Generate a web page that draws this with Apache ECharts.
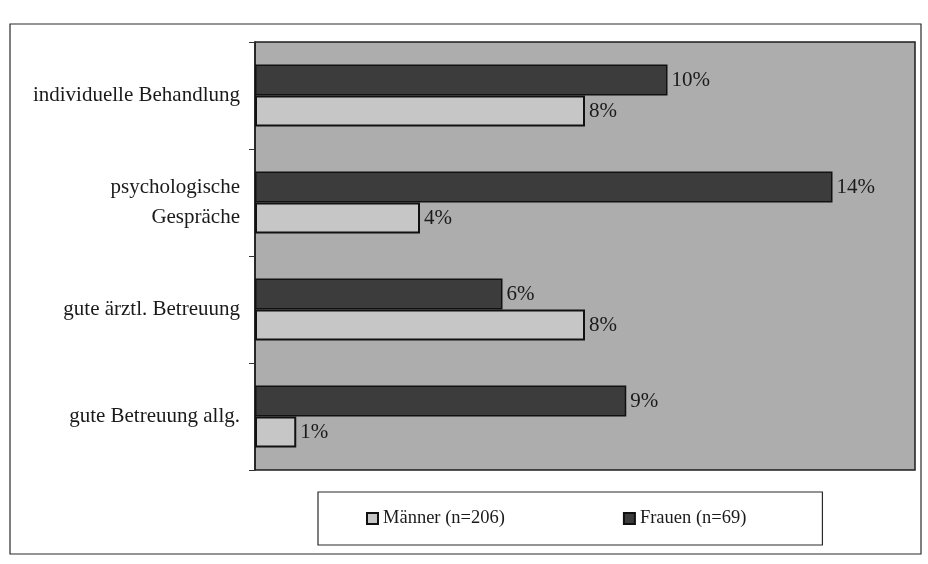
<!DOCTYPE html>
<html>
<head>
<meta charset="utf-8">
<script src="https://cdn.jsdelivr.net/npm/echarts@6/dist/echarts.min.js"></script>
<style>
  html, body { margin: 0; padding: 0; background: #ffffff; }
  #chart { width: 928px; height: 564px; }
</style>
</head>
<body>
<div id="chart"></div>
<script>
// Categories listed bottom-up (category axis runs from bottom to top)
const categories = [
  'gute Betreuung allg.',
  'gute ärztl. Betreuung',
  'psychologische\nGespräche',
  'individuelle Behandlung'
];
const seriesNames = ['Männer (n=206)', 'Frauen (n=69)'];
const maennerValues = [1, 8, 4, 8];
const frauenValues = [9, 6, 14, 10];

const serif = '"Liberation Serif", "DejaVu Serif", serif';

const chart = echarts.init(document.getElementById('chart'), null, { renderer: 'canvas' });

const valueLabel = {
  show: true,
  position: 'right',
  distance: 4,
  formatter: '{c}%',
  fontFamily: serif,
  fontSize: 21,
  color: '#1a1a1a'
};

chart.setOption({
  animation: false,
  backgroundColor: '#ffffff',
  graphic: [
    {
      type: 'rect',
      shape: { x: 10, y: 24, width: 911, height: 530 },
      style: { fill: 'none', stroke: '#2a2a2a', lineWidth: 1.2 },
      silent: true,
      z: -1
    }
  ],
  grid: {
    left: 255,
    right: 13,
    top: 42,
    bottom: 94,
    show: true,
    backgroundColor: '#adadad',
    borderColor: '#1e1e1e',
    borderWidth: 1.5
  },
  legend: {
    data: seriesNames,
    left: 318,
    top: 492,
    padding: [17, 76, 17, 48],
    itemGap: 118,
    itemWidth: 11,
    itemHeight: 11,
    borderColor: '#2a2a2a',
    borderWidth: 1.2,
    icon: 'rect',
    textStyle: { fontFamily: serif, fontSize: 18.5, color: '#1a1a1a' }
  },
  xAxis: {
    type: 'value',
    min: 0,
    max: 16,
    show: false,
    splitLine: { show: false }
  },
  yAxis: {
    type: 'category',
    data: categories,
    axisLine: { show: true, lineStyle: { color: '#1e1e1e', width: 1.5 } },
    axisTick: { show: true, inside: false, length: 6, lineStyle: { color: '#333' } },
    axisLabel: {
      margin: 15,
      fontFamily: serif,
      fontSize: 21,
      lineHeight: 30,
      color: '#1a1a1a',
      align: 'right'
    }
  },
  series: [
    // Frauen first so its bar sits above the Männer bar in each group
    {
      name: seriesNames[1],
      type: 'bar',
      data: frauenValues,
      barCategoryGap: '42%',
      barGap: '0%',
      itemStyle: { color: '#3c3c3c', borderColor: '#111', borderWidth: 1.5 },
      label: valueLabel
    },
    {
      name: seriesNames[0],
      type: 'bar',
      data: maennerValues,
      barCategoryGap: '42%',
      barGap: '0%',
      itemStyle: { color: '#c6c6c6', borderColor: '#111', borderWidth: 2 },
      label: valueLabel
    }
  ]
});
</script>
</body>
</html>
